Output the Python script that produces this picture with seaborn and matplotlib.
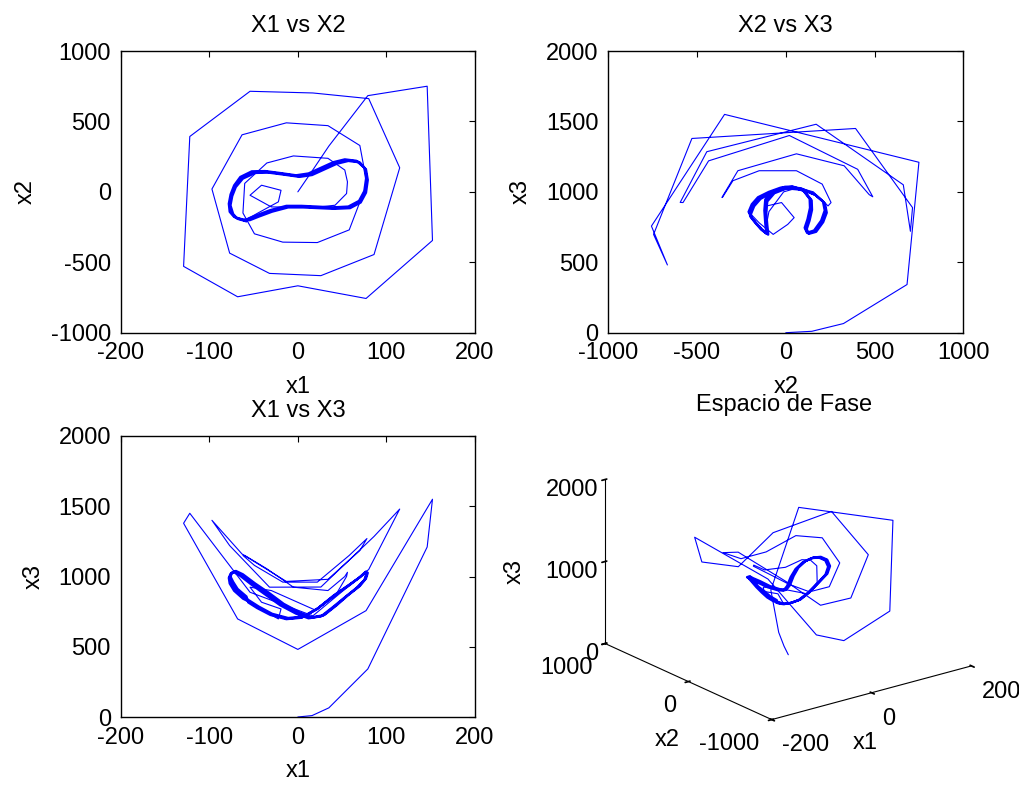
import numpy as np
import pandas as pd
import matplotlib
matplotlib.use("Agg")
import matplotlib.pyplot as plt
import seaborn as sns

sns.set_theme(style="white")
plt.rcParams["font.family"] = ["Liberation Sans", "DejaVu Sans"]
plt.rcParams["axes.unicode_minus"] = False
for k in ["text.color", "axes.labelcolor", "xtick.color", "ytick.color", "axes.edgecolor"]:
    plt.rcParams[k] = "black"

# ---- transient part of the trajectory (x1, x2, x3) ----
x1_tr = [0, 16, 35, 79, 146, 152, 77, 0, -68, -129, -122, -54, 17, 80, 115, 86, 26, -32, -77, -97,
         -63, -13, 34, 70, 78, 58, 22, -17, -49, -62, -60, -35, -5, 34, 53, 56, 55, 42, 20, -30,
         -54, -41, -19, -22, -45, -60]
x2_tr = [0, 147, 325, 683, 750, -345, -757, -667, -745, -529, 393, 714, 702, 662, 171, -445, -595, -579, -435, 20,
         405, 490, 470, 329, 60, -270, -360, -357, -298, -150, 60, 205, 255, 238, 155, 71, -12, -95, -110, -107,
         -24, 47, 11, -71, -150, -203]
x3_tr = [0, 10, 65, 342, 1210, 1550, 757, 481, 698, 1379, 1450, 888, 720, 1050, 1480, 1285, 925, 924, 1220, 1400,
         1160, 965, 980, 1185, 1270, 1150, 960, 960, 1079, 1150, 1150, 1055, 924, 900, 1000, 1030, 1000, 860, 760, 900,
         924, 817, 769, 698, 780, 850]

# ---- limit cycle (three laps) ----
x1_cyc = [-60, -70, -75, -77, -75, -71, -64, -50, -35, -18, 0, 14, 28, 42, 55, 68, 76, 78, 76, 70, 58, 40, 22, 5, -12, -30, -45, -55,
          -62, -72, -77, -78, -76, -72, -65, -52, -37, -20, -2, 12, 26, 40, 53, 66, 75, 77, 75, 69, 57, 39, 21, 4, -13, -31, -46, -56,
          -58, -68, -73, -76, -74, -70, -62, -48, -33, -16, 2, 16, 30, 44, 57, 70, 77, 79, 77, 71, 59, 41, 23, 6, -11, -29, -44, -54, -60]
x2_cyc = [-203, -185, -150, -90, -24, 40, 100, 140, 142, 128, 112, 125, 165, 205, 225, 215, 165, 90, 0, -70, -110, -115, -110, -105, -105, -135, -170, -195,
          -196, -178, -142, -84, -18, 46, 106, 146, 148, 134, 118, 131, 171, 211, 231, 221, 171, 96, 6, -64, -104, -110, -104, -99, -99, -129, -164, -189,
          -210, -192, -157, -96, -30, 34, 94, 134, 136, 122, 106, 119, 159, 199, 219, 209, 159, 84, -6, -76, -116, -121, -116, -111, -111, -141, -176, -201, -203]
x3_cyc = [850, 905, 955, 995, 1025, 1035, 1010, 945, 880, 800, 740, 705, 720, 790, 860, 925, 980, 1020, 1030, 995, 940, 860, 770, 710, 700, 730, 780, 820,
          842, 898, 950, 990, 1020, 1030, 1004, 940, 872, 795, 735, 702, 716, 785, 852, 918, 975, 1014, 1024, 990, 932, 852, 765, 706, 696, 726, 775, 815,
          858, 912, 962, 1000, 1030, 1040, 1016, 950, 886, 806, 745, 710, 726, 796, 868, 932, 986, 1026, 1036, 1000, 946, 868, 776, 715, 705, 735, 786, 826, 850]

titles = ["X1 vs X2", "X2 vs X3", "X1 vs X3"]
xlabels = ["x1", "x2", "x1"]
ylabels = ["x2", "x3", "x3"]
xlims = [(-200, 200), (-1000, 1000), (-200, 200)]
ylims = [(-1000, 1000), (0, 2000), (0, 2000)]
xticks = [[-200, -100, 0, 100, 200], [-1000, -500, 0, 500, 1000], [-200, -100, 0, 100, 200]]
yticks = [[-1000, -500, 0, 500, 1000], [0, 500, 1000, 1500, 2000], [0, 500, 1000, 1500, 2000]]
ticks3d_x1 = [-200, 0, 200]
ticks3d_x2 = [-1000, 0, 1000]
ticks3d_x3 = [0, 1000, 2000]

tr = pd.DataFrame({"x1": x1_tr, "x2": x2_tr, "x3": x3_tr})
cy = pd.DataFrame({"x1": x1_cyc, "x2": x2_cyc, "x3": x3_cyc})
pairs = [("x1", "x2"), ("x2", "x3"), ("x1", "x3")]

W, H = 1019, 787
fig = plt.figure(figsize=(W / 100, H / 100), dpi=100)
fig.patch.set_facecolor("white")

BLUE = "#0000ff"
FS = 17
boxes = [(120.7, 51, 475, 332.7), (608.3, 51, 963.3, 332.7), (120.7, 436, 475, 717)]

for i in range(3):
    l, t, r, b = boxes[i]
    ax = fig.add_axes([l / W, 1 - b / H, (r - l) / W, (b - t) / H])
    xa, ya = pairs[i]
    sns.lineplot(data=tr, x=xa, y=ya, sort=False, estimator=None, color=BLUE, lw=0.8, ax=ax)
    sns.lineplot(data=cy, x=xa, y=ya, sort=False, estimator=None, color=BLUE, lw=1.6, ax=ax)
    ax.set_xlim(*xlims[i])
    ax.set_ylim(*ylims[i])
    ax.set_xticks(xticks[i])
    ax.set_yticks(yticks[i])
    ax.tick_params(direction="in", length=4, width=0.8, top=True, right=True,
                   labelsize=FS, pad=7, colors="black")
    for s in ax.spines.values():
        s.set_color("black")
        s.set_linewidth(1.0)
    ax.set_xlabel(xlabels[i], fontsize=FS, labelpad=8)
    ax.set_ylabel(ylabels[i], fontsize=FS, labelpad=10)
    ax.set_title(titles[i], fontsize=FS, pad=14)

# ---- 3D phase space ----
ax4 = fig.add_axes([606 / W, 1 - 717 / H, 357 / W, 281 / H], projection="3d")
ax4.plot(x1_tr, x2_tr, x3_tr, color=BLUE, lw=0.8)
ax4.plot(x1_cyc, x2_cyc, x3_cyc, color=BLUE, lw=1.6)
ax4.set_proj_type("ortho")
ax4.view_init(elev=20.5, azim=-127.5)
ax4.set_xlim(-200, 200)
ax4.set_ylim(-1000, 1000)
ax4.set_zlim(0, 2000)
ax4.set_xticks(ticks3d_x1, labels=[str(v) for v in ticks3d_x1], ha="left")
ax4.set_yticks(ticks3d_x2, labels=[str(v) for v in ticks3d_x2], ha="right")
ax4.set_zticks(ticks3d_x3, labels=[str(v) for v in ticks3d_x3], ha="right")
ax4.set_box_aspect((0.92, 1, 0.64), zoom=1.42)
ax4.grid(False)
for axis in (ax4.xaxis, ax4.yaxis, ax4.zaxis):
    axis.set_pane_color((1, 1, 1, 0))
    axis.pane.set_edgecolor((1, 1, 1, 0))
    axis.line.set_color("black")
    axis.line.set_linewidth(0.8)
ax4.tick_params(axis="x", labelsize=FS, colors="black", pad=-1.5)
ax4.tick_params(axis="y", labelsize=FS, colors="black", pad=-1.5)
ax4.tick_params(axis="z", labelsize=FS, colors="black", pad=-6)
ax4.set_xlabel("")
ax4.set_ylabel("")
ax4.set_zlabel("")
ax4.patch.set_alpha(0)
fig.text(865 / W, 1 - 743 / H, "x1", ha="center", va="center", fontsize=FS)
fig.text(667 / W, 1 - 740 / H, "x2", ha="center", va="center", fontsize=FS)
fig.text(515 / W, 1 - 572 / H, "x3", ha="center", va="center", fontsize=FS, rotation=90)
fig.text(783.8 / W, 1 - 410.7 / H, "Espacio de Fase", ha="center", va="baseline", fontsize=FS)

fig.savefig("out.png", dpi=100, facecolor="white")
